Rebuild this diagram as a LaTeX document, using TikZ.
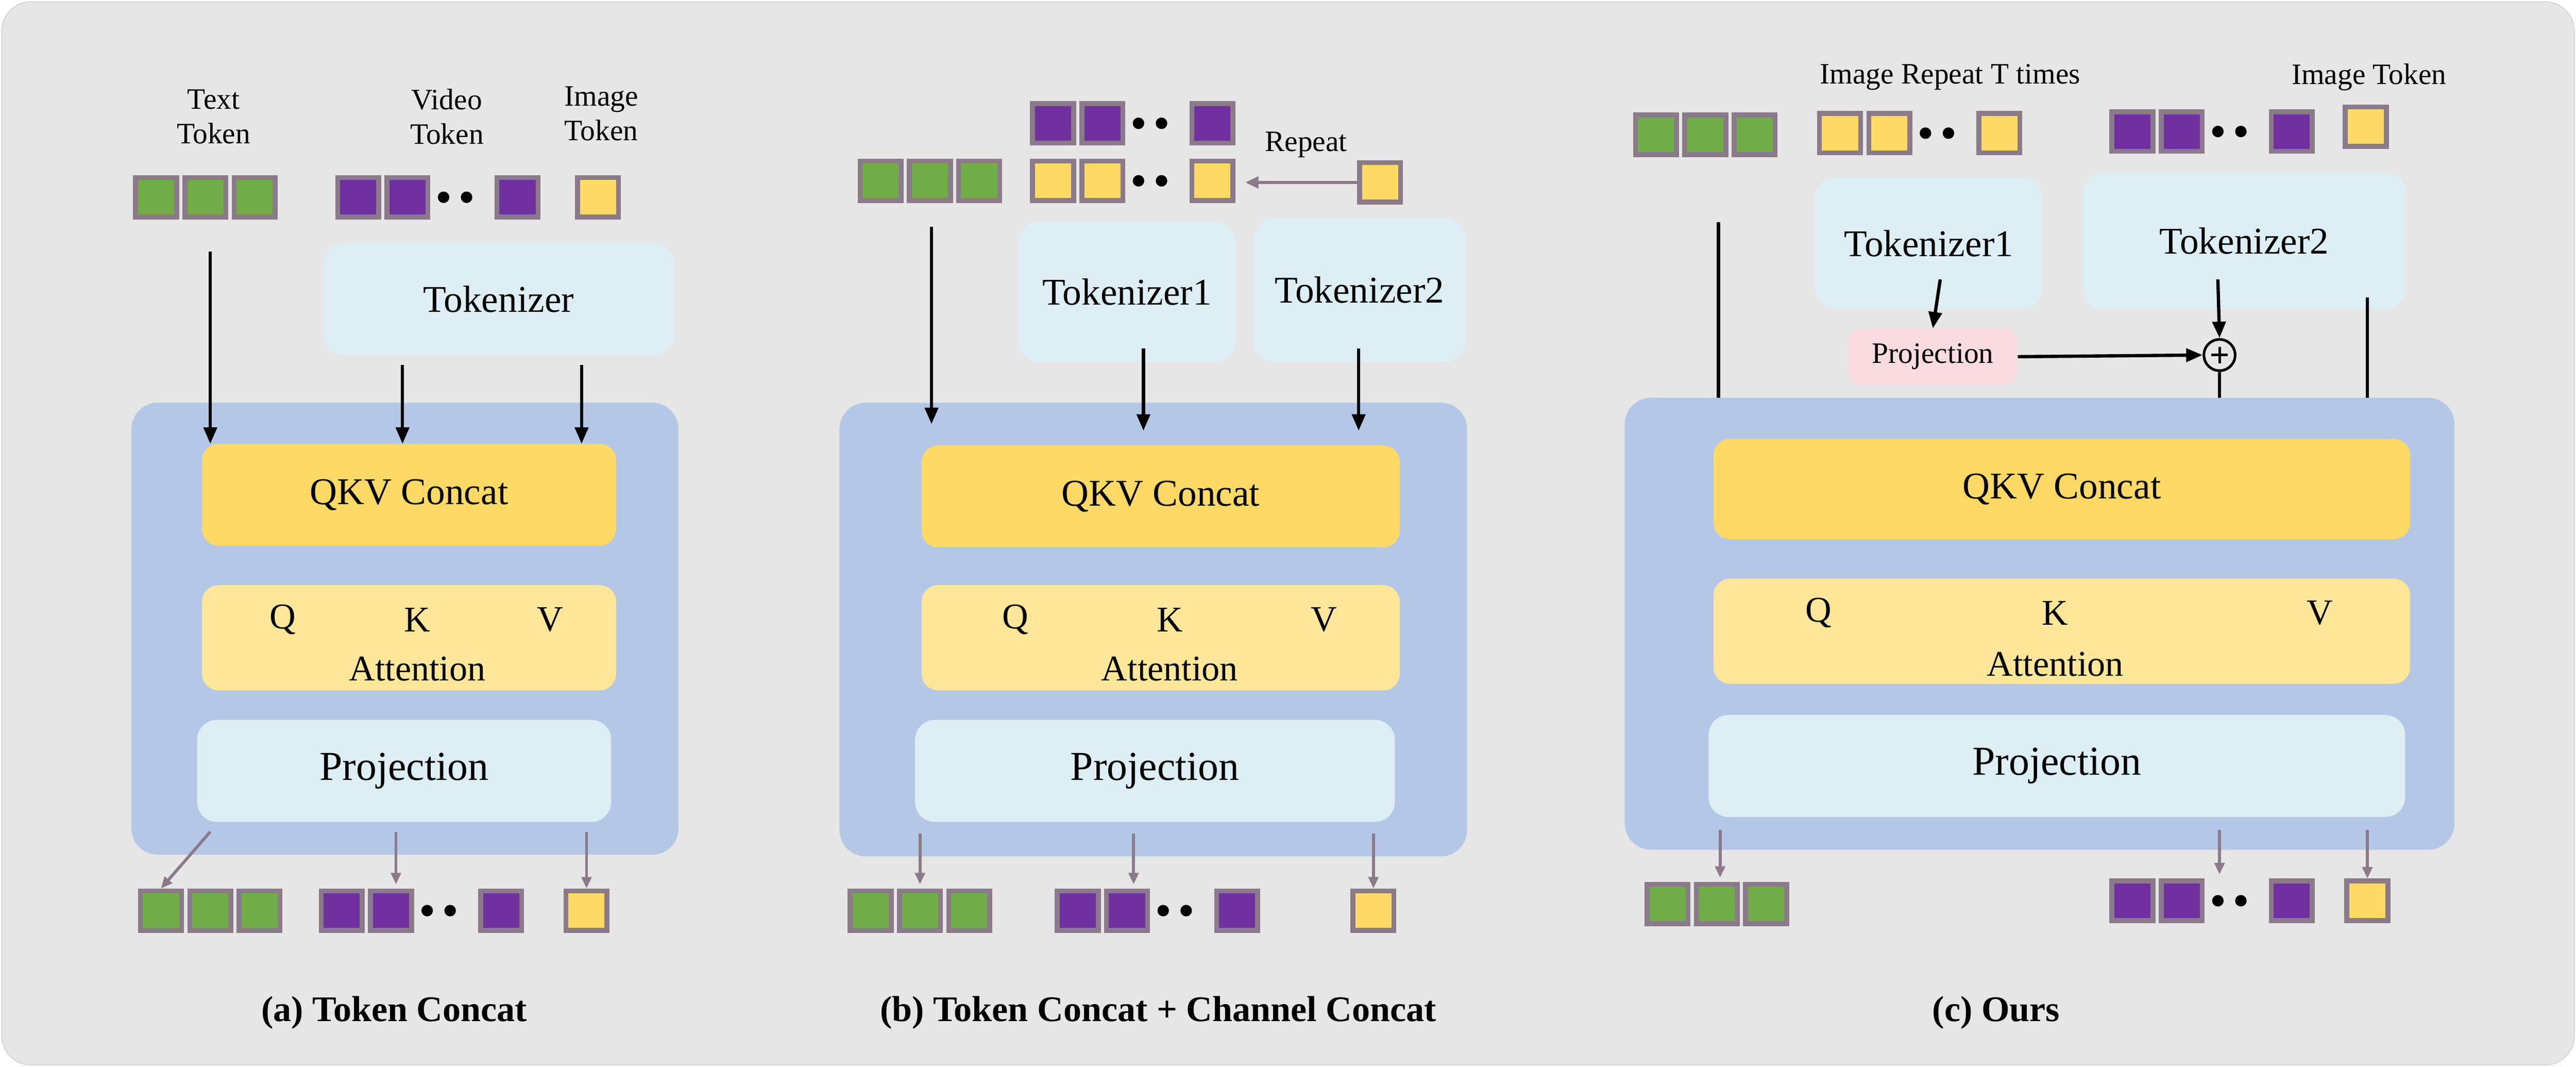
\documentclass[tikz,border=0pt]{standalone}
\usepackage{fontspec}
\setmainfont{Liberation Serif}
\usetikzlibrary{arrows.meta}
\definecolor{bg}{HTML}{E6E6E6}
\definecolor{blu}{HTML}{B4C7E7}
\definecolor{lbl}{HTML}{DEEEF5}
\definecolor{qkv}{HTML}{FFD966}
\definecolor{att}{HTML}{FFE699}
\definecolor{pnk}{HTML}{FADCE0}
\definecolor{tb}{HTML}{8B7A89}
\definecolor{tg}{HTML}{70AD47}
\definecolor{tp}{HTML}{7030A0}
\definecolor{ty}{HTML}{FFD966}
\newcommand\bx[7]{\node[#6,minimum width={(#4-#2)*1pt},minimum height={(#5-#3)*1pt}] (#1) at ({(#2+#4)/2},{(#3+#5)/2}) {#7};}
\newcommand\tk[4]{\node[tok,fill=#4] (#1) at (#2,#3) {};}
\newcommand\gtrow[3]{\tk{#1a}{#2+15}{#3}{tg}\tk{#1b}{#2+45}{#3}{tg}\tk{#1c}{#2+75}{#3}{tg}}
\newcommand\prow[4]{\tk{#1a}{#2+15}{#3}{#4}\tk{#1b}{#2+45}{#3}{#4}
  \fill (#2+67,#3) circle (3.5) (#2+81,#3) circle (3.5);\tk{#1c}{#2+112}{#3}{#4}}
\tikzset{
 tok/.style={draw=tb,line width=3pt,minimum width=25pt,minimum height=24pt,inner sep=0},
 lb/.style={fill=lbl,rounded corners=12pt,font=\fontsize{23}{26}\selectfont,inner sep=0},
 bigb/.style={fill=blu,rounded corners=16pt,inner sep=0},
 qb/.style={fill=qkv,rounded corners=10pt,font=\fontsize{23}{26}\selectfont,inner sep=0},
 ab/.style={fill=att,rounded corners=10pt,inner sep=0},
 arr/.style={-{Triangle[length=10pt,width=8pt]},line width=2pt},
 garr/.style={-{Triangle[length=7pt,width=6pt]},line width=1.8pt,draw=tb},
 sm/.style={font=\fontsize{18}{21}\selectfont,align=center},
 captxt/.style={font=\fontsize{22}{26}\selectfont\bfseries},
 qk/.style={font=\fontsize{22}{26}\selectfont},
}
\begin{document}
\begin{tikzpicture}[x=1pt,y=-1pt]
\useasboundingbox (0,0) rectangle (1568,649);
\draw[fill=bg,draw=gray!40,rounded corners=18pt] (1,1) rectangle (1567,648);
% ===== (a)
\node[sm] (la1) at (130,71) {Text\\Token};
\node[sm] (la2) at (272,71) {Video\\Token};
\node[sm] (la3) at (366,69) {Image\\Token};
\gtrow{ag}{80}{120}
\prow{ap}{203}{120}{tp}
\tk{ay}{364}{120}{ty}
\bx{atok}{197}{148}{410}{216}{lb}{Tokenizer}
\bx{ablue}{80}{245}{413}{520}{bigb}{}
\bx{aq}{123}{270}{375}{332}{qb}{QKV Concat}
\bx{aa}{123}{356}{375}{420}{ab}{}
\node[qk] at (172,377) {Q};\node[qk] at (254,377) {K};\node[qk] at (335,377) {V};
\node[qk] (aat) at (254,407) {Attention};
\bx{apj}{120}{438}{372}{500}{lb}{\fontsize{25}{28}\selectfont Projection}
\draw[arr] (128,153) -- (128,270);
\draw[arr] (245,222) -- (245,270);
\draw[arr] (354,222) -- (354,270);
\gtrow{bg}{83}{554}
\prow{bp}{193}{554}{tp}
\tk{by}{357}{554}{ty}
\draw[garr] (128,506) -- (bga.north);
\draw[garr] (241,506) -- (241,538);
\draw[garr] (357,506) -- (by.north);
\node[captxt] (capa) at (240,616) {(a) Token Concat};
% ===== (b)
\prow{cp}{626}{75}{tp}
\prow{cy}{626}{110}{ty}
\gtrow{cg}{521}{110}
\tk{cr}{840}{111}{ty}
\draw[-{Triangle[length=8pt,width=7pt]},line width=1.8pt,draw=tb] (cr.west) -- (758,111);
\node[sm] (rep) at (795,88) {Repeat};
\bx{ct1}{620}{135}{752}{220}{lb}{Tokenizer1}
\bx{ct2}{763}{133}{892}{220}{lb}{Tokenizer2}
\bx{cblue}{511}{245}{893}{521}{bigb}{}
\bx{cq}{561}{271}{852}{333}{qb}{QKV Concat}
\bx{ca}{561}{356}{852}{420}{ab}{}
\node[qk] at (618,377) {Q};\node[qk] at (712,377) {K};\node[qk] at (806,377) {V};
\node[qk] at (712,407) {Attention};
\bx{cpj}{557}{438}{849}{500}{lb}{\fontsize{25}{28}\selectfont Projection}
\draw[arr] (567,138) -- (567,258);
\draw[arr] (696,212) -- (696,262);
\draw[arr] (827,212) -- (827,262);
\gtrow{dg}{515}{554}
\prow{dp}{641}{554}{tp}
\tk{dy}{836}{554}{ty}
\draw[garr] (560,507) -- (560,538);
\draw[garr] (690,507) -- (690,538);
\draw[garr] (836,507) -- (dy.north);
\node[captxt] (capb) at (705,616) {(b) Token Concat + Channel Concat};
% ===== (c)
\gtrow{eg}{993}{82}
\node[sm] (lr) at (1187,47) {Image Repeat T times};
\prow{ey}{1105}{81}{ty}
\node[sm] (li) at (1442,47) {Image Token};
\prow{ep}{1283}{80}{tp}
\tk{ei}{1440}{77}{ty}
\bx{et1}{1105}{108}{1243}{188}{lb}{Tokenizer1}
\bx{et2}{1268}{105}{1464}{188}{lb}{Tokenizer2}
\bx{epp}{1125}{200}{1228}{234}{fill=pnk,rounded corners=8pt,inner sep=0,font=\fontsize{18}{21}\selectfont}{Projection}
\node[circle,draw,line width=1.6pt,minimum size=19pt,inner sep=0] (plus) at (1351,216) {};
\draw[line width=1.6pt] (1346,216) -- (1356,216) (1351,211) -- (1351,221);
\draw[arr] (1181,170) -- (epp.north);
\draw[arr] (1350,170) -- (plus.north);
\draw[arr] (epp.east) -- (plus.west);
\draw[arr] (plus.south) -- (1351,262);
\draw[arr] (1441,181) -- (1441,261);
\draw[arr] (1046,135) -- (1046,253);
\bx{eblue}{989}{242}{1494}{517}{bigb}{}
\bx{eq}{1043}{267}{1467}{328}{qb}{QKV Concat}
\bx{ea}{1043}{352}{1467}{416}{ab}{}
\node[qk] at (1107,373) {Q};\node[qk] at (1251,373) {K};\node[qk] at (1412,373) {V};
\node[qk] at (1251,404) {Attention};
\bx{epj}{1040}{435}{1464}{497}{lb}{\fontsize{25}{28}\selectfont Projection}
\gtrow{fg}{1000}{550}
\prow{fp}{1283}{548}{tp}
\tk{fy}{1441}{548}{ty}
\draw[garr] (1047,505) -- (1047,534);
\draw[garr] (1351,505) -- (1351,532);
\draw[garr] (1441,505) -- (fy.north);
\node[captxt] (capc) at (1215,616) {(c) Ours};
\end{tikzpicture}
\end{document}
